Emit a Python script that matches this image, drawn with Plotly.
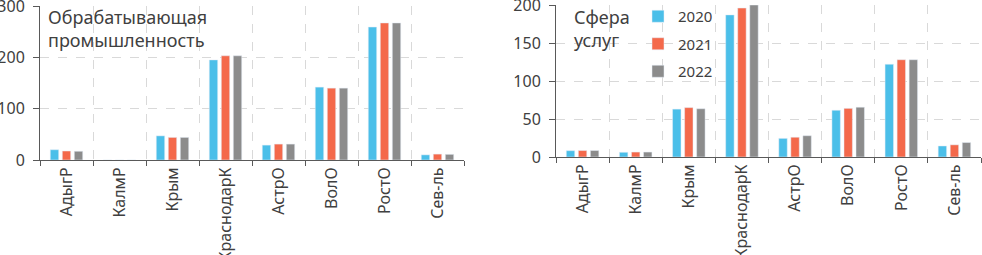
import plotly.graph_objects as go

categories = ["АдыгР", "КалмР", "Крым", "КраснодарК", "АстрО", "ВолО", "РостО", "Сев-ль"]
years = ["2020", "2021", "2022"]

manuf_2020 = [20, 0, 47, 195, 29, 142, 259, 10]
manuf_2021 = [17.5, 0, 44, 203, 31, 140, 267, 11.5]
manuf_2022 = [17, 0, 44, 203, 31, 140, 267, 11]

serv_2020 = [8.3, 6.2, 63, 187, 24.5, 61.5, 122, 14.5]
serv_2021 = [8.5, 6.5, 65, 196, 26, 64, 128, 16]
serv_2022 = [8.5, 6.5, 63.5, 200, 28, 65.5, 128, 19]

colors = ["#4BBFE9", "#F4694B", "#8C8C8C"]
FONT = "Noto Sans"
TXT = "#404040"
W, H = 982, 255

fig = go.Figure()
manuf = [manuf_2020, manuf_2021, manuf_2022]
serv = [serv_2020, serv_2021, serv_2022]
for i, y in enumerate(years):
    fig.add_trace(go.Bar(x=categories, y=manuf[i], name=y, marker_color=colors[i],
                         xaxis="x", yaxis="y", showlegend=False, legendgroup=y))
for i, y in enumerate(years):
    fig.add_trace(go.Bar(x=categories, y=serv[i], name=y, marker_color=colors[i],
                         xaxis="x2", yaxis="y2", showlegend=True, legendgroup=y))

grid = dict(showgrid=True, gridcolor="#D9D9D9", griddash="dash", gridwidth=1)
xcommon = dict(type="category", range=[-0.5, 7.5], tickson="boundaries", ticks="outside",
               ticklen=5, tickcolor="#595959", showline=True, linecolor="#595959", linewidth=1,
               tickangle=-90, tickfont=dict(family=FONT, size=16, color=TXT),
               automargin=False, ticklabeloverflow="allow", **grid)
ycommon = dict(ticks="outside", ticklen=6, tickcolor="#595959", showline=True,
               linecolor="#595959", linewidth=1, zeroline=False,
               tickfont=dict(family=FONT, size=16, color=TXT), automargin=False,
               ticklabeloverflow="allow", ticklabelstandoff=5, **grid)

fig.update_layout(
    width=W, height=H,
    margin=dict(l=0, r=0, t=0, b=0),
    paper_bgcolor="white", plot_bgcolor="white",
    barmode="group", bargap=0.32, bargroupgap=0.3,
    xaxis=dict(domain=[40 / W, 464 / W], anchor="y", **xcommon),
    yaxis=dict(domain=[1 - 160 / H, 1 - 6 / H], range=[0, 300], dtick=100, anchor="x", **ycommon),
    xaxis2=dict(domain=[556 / W, 981 / W], anchor="y2", **xcommon),
    yaxis2=dict(domain=[1 - 157 / H, 1 - 5 / H], range=[0, 200], dtick=50, anchor="x2", **ycommon),
    legend=dict(x=638 / W, y=1 - 0 / H, xanchor="left", yanchor="top",
                font=dict(family=FONT, size=15, color=TXT), bgcolor="rgba(0,0,0,0)",
                tracegroupgap=5, itemwidth=30),
    showlegend=True,
    annotations=[
        dict(text="Обрабатывающая<br>промышленность", x=46 / W, y=1 - 3 / H, xref="paper", yref="paper",
             xanchor="left", yanchor="top", align="left", showarrow=False,
             font=dict(family=FONT, size=18, color=TXT)),
        dict(text="Сфера<br>услуг", x=572 / W, y=1 - 3 / H, xref="paper", yref="paper",
             xanchor="left", yanchor="top", align="left", showarrow=False,
             font=dict(family=FONT, size=18, color=TXT)),
    ],
)

fig.write_html("out.html", config={"displayModeBar": False},
               post_script="document.body.style.margin='0';document.body.style.overflow='hidden';")
